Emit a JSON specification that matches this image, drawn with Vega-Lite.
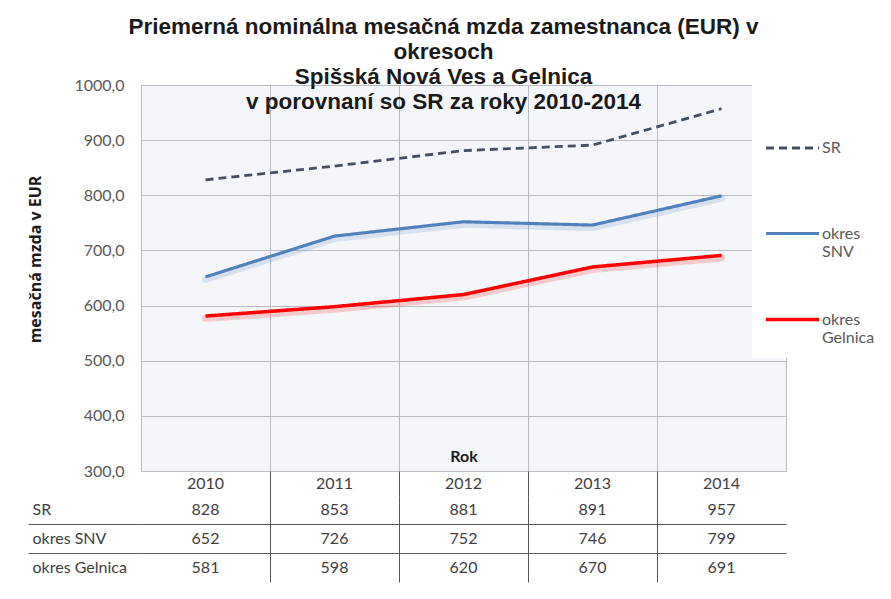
{
  "$schema": "https://vega.github.io/schema/vega-lite/v6.json",
  "background": "white",
  "padding": {"left": 26, "top": 16, "right": 5, "bottom": 5},
  "autosize": {"type": "pad"},
  "bounds": "flush",
  "spacing": 25,
  "title": {
    "text": ["Priemerná nominálna mesačná mzda zamestnanca (EUR) v", "okresoch", "Spišská Nová Ves a Gelnica", "v porovnaní so SR za roky 2010-2014"],
    "font": "Liberation Sans", "fontSize": 22.5, "fontWeight": "bold", "lineHeight": 25, "color": "#1a1a1a",
    "anchor": "middle", "frame": "group", "offset": -37, "dx": -20
  },
  "datasets": {
    "wages": [
      {"rok": 2010, "seria": "SR", "mzda": 828},
      {"rok": 2011, "seria": "SR", "mzda": 853},
      {"rok": 2012, "seria": "SR", "mzda": 881},
      {"rok": 2013, "seria": "SR", "mzda": 891},
      {"rok": 2014, "seria": "SR", "mzda": 957},
      {"rok": 2010, "seria": "okres SNV", "mzda": 652},
      {"rok": 2011, "seria": "okres SNV", "mzda": 726},
      {"rok": 2012, "seria": "okres SNV", "mzda": 752},
      {"rok": 2013, "seria": "okres SNV", "mzda": 746},
      {"rok": 2014, "seria": "okres SNV", "mzda": 799},
      {"rok": 2010, "seria": "okres Gelnica", "mzda": 581},
      {"rok": 2011, "seria": "okres Gelnica", "mzda": 598},
      {"rok": 2012, "seria": "okres Gelnica", "mzda": 620},
      {"rok": 2013, "seria": "okres Gelnica", "mzda": 670},
      {"rok": 2014, "seria": "okres Gelnica", "mzda": 691}
    ]
  },
  "vconcat": [
    {
      "width": 645,
      "height": 386,
      "view": {"fill": "#f5f6f9", "stroke": "#b9bdc3"},
      "data": {"name": "wages"},
      "encoding": {
        "x": {
          "field": "rok", "type": "ordinal", "bandPosition": 0.5,
          "scale": {"type": "band", "paddingInner": 0, "paddingOuter": 0},
          "axis": {
            "orient": "bottom", "labels": false, "ticks": false, "domain": false,
            "grid": true, "bandPosition": 0, "gridColor": "#b9bdc3",
            "title": "Rok", "titleFont": "Lato", "titleFontSize": 16, "titleFontWeight": "bold",
            "titleColor": "#1a1a1a", "titleY": -23
          }
        },
        "y": {
          "field": "mzda", "type": "quantitative",
          "scale": {"domain": [300, 1000], "nice": false, "zero": false},
          "axis": {
            "values": [300, 400, 500, 600, 700, 800, 900, 1000],
            "labelExpr": "replace(format(datum.value, '.1f'), '.', ',')",
            "labelFont": "Lato", "labelFontSize": 16, "labelColor": "#595959", "labelPadding": 17,
            "ticks": false, "domain": false, "gridColor": "#b9bdc3",
            "title": "mesačná mzda v EUR", "titleFont": "Open Sans", "titleFontSize": 16, "titleFontWeight": "bold",
            "titleColor": "#1a1a1a", "titleX": -98, "titleY": 174
          }
        },
        "color": {
          "field": "seria", "type": "nominal",
          "scale": {"domain": ["SR", "okres SNV", "okres Gelnica"], "range": ["#454F63", "#4F81BD", "#FF0000"]},
          "legend": {
            "title": " ", "orient": "none", "legendX": 611, "legendY": 0,
            "fillColor": "white", "padding": 12, "titleFontSize": 10, "titlePadding": 13,
            "symbolType": "stroke", "symbolSize": 2809, "symbolStrokeWidth": 3, "symbolOpacity": 1,
            "labelFont": "Lato", "labelFontSize": 16, "labelColor": "#595959", "labelOffset": 1,
            "labelExpr": "datum.label == 'SR' ? ['SR', ''] : split(datum.label, ' ')",
            "rowPadding": 31, "labelLimit": 200
          }
        }
      },
      "layer": [
        {
          "transform": [{"filter": "datum.seria != 'SR'"}],
          "mark": {"type": "line", "strokeWidth": 7, "opacity": 0.18, "yOffset": 2.5, "strokeCap": "round", "strokeJoin": "round"}
        },
        {
          "mark": {"type": "line", "strokeCap": "butt", "strokeJoin": "round"},
          "encoding": {
            "strokeDash": {
              "field": "seria", "type": "nominal",
              "scale": {"domain": ["SR", "okres SNV", "okres Gelnica"], "range": [[8, 5], [1, 0], [1, 0]]},
              "legend": {
                "title": " ", "orient": "none", "legendX": 611, "legendY": 0,
                "fillColor": "white", "padding": 12, "titleFontSize": 10, "titlePadding": 13,
                "symbolType": "stroke", "symbolSize": 2809, "symbolStrokeWidth": 3, "symbolOpacity": 1,
                "labelFont": "Lato", "labelFontSize": 16, "labelColor": "#595959", "labelOffset": 1,
                "labelExpr": "datum.label == 'SR' ? ['SR', ''] : split(datum.label, ' ')",
                "rowPadding": 31, "labelLimit": 200
              }
            },
            "strokeWidth": {
              "field": "seria", "type": "nominal",
              "scale": {"domain": ["SR", "okres SNV", "okres Gelnica"], "range": [2.8, 3.5, 4]},
              "legend": null
            }
          }
        }
      ]
    },
    {
      "width": 645,
      "height": 86,
      "view": {"stroke": null, "fill": null},
      "data": {"name": "wages"},
      "mark": {"type": "text", "font": "Lato", "fontSize": 16, "color": "#404040"},
      "encoding": {
        "x": {
          "field": "rok", "type": "ordinal",
          "scale": {"type": "band", "paddingInner": 0, "paddingOuter": 0},
          "axis": {
            "orient": "top", "bandPosition": 0, "labelAngle": 0,
            "ticks": true, "tickSize": 25, "tickColor": "#595959",
            "tickOpacity": {"condition": {"test": "datum.value == 2010", "value": 0}, "value": 1},
            "grid": true, "gridColor": "#595959",
            "gridOpacity": {"condition": {"test": "datum.value == 2010", "value": 0}, "value": 1},
            "domain": false, "labelFont": "Lato", "labelFontSize": 16, "labelColor": "#404040",
            "labelPadding": -20, "title": null
          }
        },
        "y": {
          "field": "seria", "type": "nominal", "sort": ["SR", "okres SNV", "okres Gelnica"],
          "scale": {"type": "band", "paddingInner": 0, "paddingOuter": 0},
          "axis": {
            "bandPosition": 0,
            "ticks": true, "tickSize": 113, "tickColor": "#595959",
            "tickOpacity": {"condition": {"test": "datum.value == 'SR'", "value": 0}, "value": 1},
            "grid": true, "gridColor": "#595959",
            "gridOpacity": {"condition": {"test": "datum.value == 'SR'", "value": 0}, "value": 1},
            "domain": false, "labelAlign": "left", "labelPadding": -4, "labelLimit": 200,
            "labelFont": "Lato", "labelFontSize": 16, "labelColor": "#404040", "title": null
          }
        },
        "text": {"field": "mzda", "type": "quantitative"}
      }
    }
  ]
}
